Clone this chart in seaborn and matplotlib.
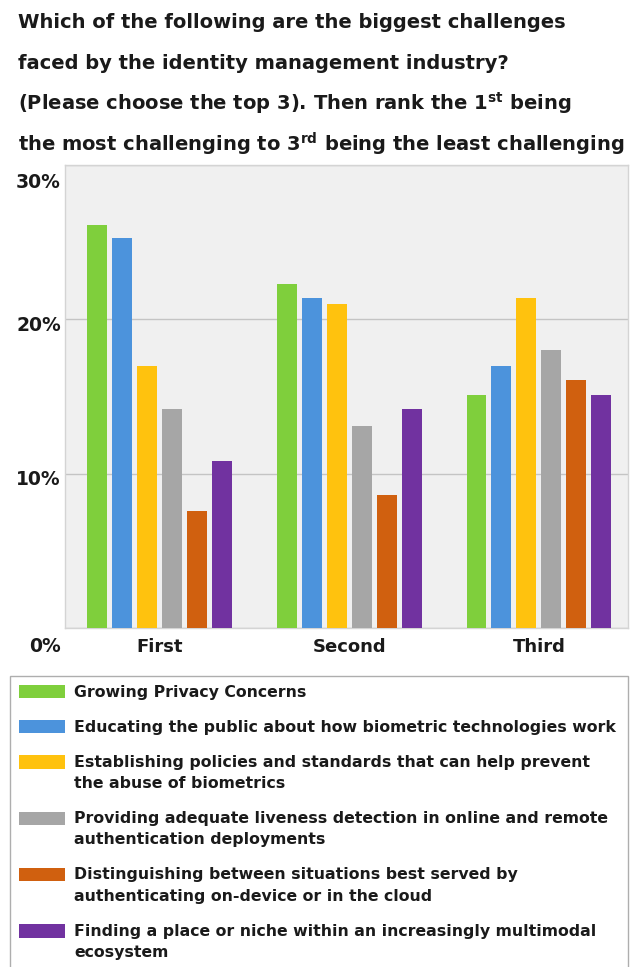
import matplotlib
matplotlib.use("Agg")
import matplotlib.pyplot as plt
import matplotlib.transforms as mtransforms
from matplotlib.legend_handler import HandlerPatch
from matplotlib.patches import Rectangle
import seaborn as sns
import pandas as pd

# ---------------- data ----------------
ranks = ["First", "Second", "Third"]
challenges = [
    "Growing Privacy Concerns",
    "Educating the public about how biometric technologies work",
    "Establishing policies and standards that can help prevent\nthe abuse of biometrics",
    "Providing adequate liveness detection in online and remote\nauthentication deployments",
    "Distinguishing between situations best served by\nauthenticating on-device or in the cloud",
    "Finding a place or niche within an increasingly multimodal\necosystem",
]
privacy = [26.1, 22.3, 15.1]
educating = [25.3, 21.4, 17.0]
policies = [17.0, 21.0, 21.4]
liveness = [14.2, 13.1, 18.0]
distinguishing = [7.6, 8.6, 16.1]
niche = [10.8, 14.2, 15.1]
series_values = [privacy, educating, policies, liveness, distinguishing, niche]
colors = ["#7fcf3c", "#4c93dc", "#ffc20e", "#a6a6a6", "#d0600f", "#7132a0"]
yticks = [0, 10, 20, 30]
ytick_labels = ["0%", "10%", "20%", "30%"]
title_lines = [
    "Which of the following are the biggest challenges",
    "faced by the identity management industry?",
    r"(Please choose the top 3). Then rank the 1$^{\mathbf{st}}$ being",
    r"the most challenging to 3$^{\mathbf{rd}}$ being the least challenging",
]

rows = []
for name, vals in zip(challenges, series_values):
    for r, v in zip(ranks, vals):
        rows.append({"Rank": r, "Challenge": name, "Value": v})
df = pd.DataFrame(rows)

# ---------------- figure ----------------
sns.set_theme(style="white")
plt.rcParams["font.family"] = ["DejaVu Sans"]
plt.rcParams["mathtext.fontset"] = "dejavusans"

W, H = 639, 967
fig = plt.figure(figsize=(W / 100, H / 100), dpi=100)
fig.patch.set_facecolor("white")

ax_l, ax_r, ax_t, ax_b = 65, 628, 165, 628
ax = fig.add_axes([ax_l / W, 1 - ax_b / H, (ax_r - ax_l) / W, (ax_b - ax_t) / H])
ax.set_facecolor("#f0f0f0")

sns.barplot(
    data=df, x="Rank", y="Value", hue="Challenge", order=ranks,
    hue_order=challenges, palette=colors, width=0.79, gap=0.2,
    saturation=1, ax=ax, legend=True, zorder=3, linewidth=0, edgecolor="none",
)

ax.set_ylim(0, 30)
ax.set_xlim(-0.5, 2.47)
ax.set_yticks(yticks)
ax.set_yticklabels(ytick_labels, fontsize=13.5, fontweight="bold", color="#1a1a1a")
ax.set_xticks(range(len(ranks)))
ax.set_xticklabels(ranks, fontsize=13, fontweight="bold", color="#1a1a1a")
ax.tick_params(axis="y", length=0, pad=3)
ax.tick_params(axis="x", length=0, pad=7)
ax.set_xlabel("")
ax.set_ylabel("")
ax.yaxis.grid(True, color="#c4c4c4", linewidth=1.0, zorder=0)
ax.set_axisbelow(True)
for s in ax.spines.values():
    s.set_color("#d4d4d4")
    s.set_linewidth(1.0)

# shift y tick labels down a little, like the reference
offsets_px = [17, 4, 4, 15]
for lab, off in zip(ax.get_yticklabels(), offsets_px):
    lab.set_transform(lab.get_transform() + mtransforms.ScaledTranslation(0, -off / 100, fig.dpi_scale_trans))

# ---------------- title ----------------
for i, line in enumerate(title_lines):
    fig.text(18 / W, 1 - (28 + i * 41) / H, line, fontsize=14.05, fontweight="bold",
             color="#1a1a1a", ha="left", va="baseline")

# ---------------- legend ----------------
handles, labels = ax.get_legend_handles_labels()
ax.get_legend().remove()

fs = 11.3
line_px = 23

def make_handler(nlines):
    def patch_func(legend, orig_handle, xdescent, ydescent, width, height, fontsize):
        shift = (nlines - 1) * 0.5 * line_px * 0.72  # points
        return Rectangle((-xdescent, -ydescent + shift), width, height)
    return HandlerPatch(patch_func=patch_func)

hmap = {h: make_handler(l.count("\n") + 1) for h, l in zip(handles, labels)}
leg = fig.legend(
    handles, labels, handler_map=hmap,
    loc="upper left", bbox_to_anchor=(10 / W, 1 - 676 / H, 618 / W, 0),
    mode="expand", borderaxespad=0, frameon=True, fancybox=False,
    prop={"size": fs, "weight": "bold"}, handlelength=2.95, handleheight=0.95,
    handletextpad=0.6, labelspacing=1.26, borderpad=0.55, alignment="left",
)
leg.get_frame().set_edgecolor("#9a9a9a")
leg.get_frame().set_linewidth(1.0)
for t in leg.get_texts():
    t.set_color("#1a1a1a")
    t.set_linespacing(1.55)

fig.savefig("out.png", dpi=100)
